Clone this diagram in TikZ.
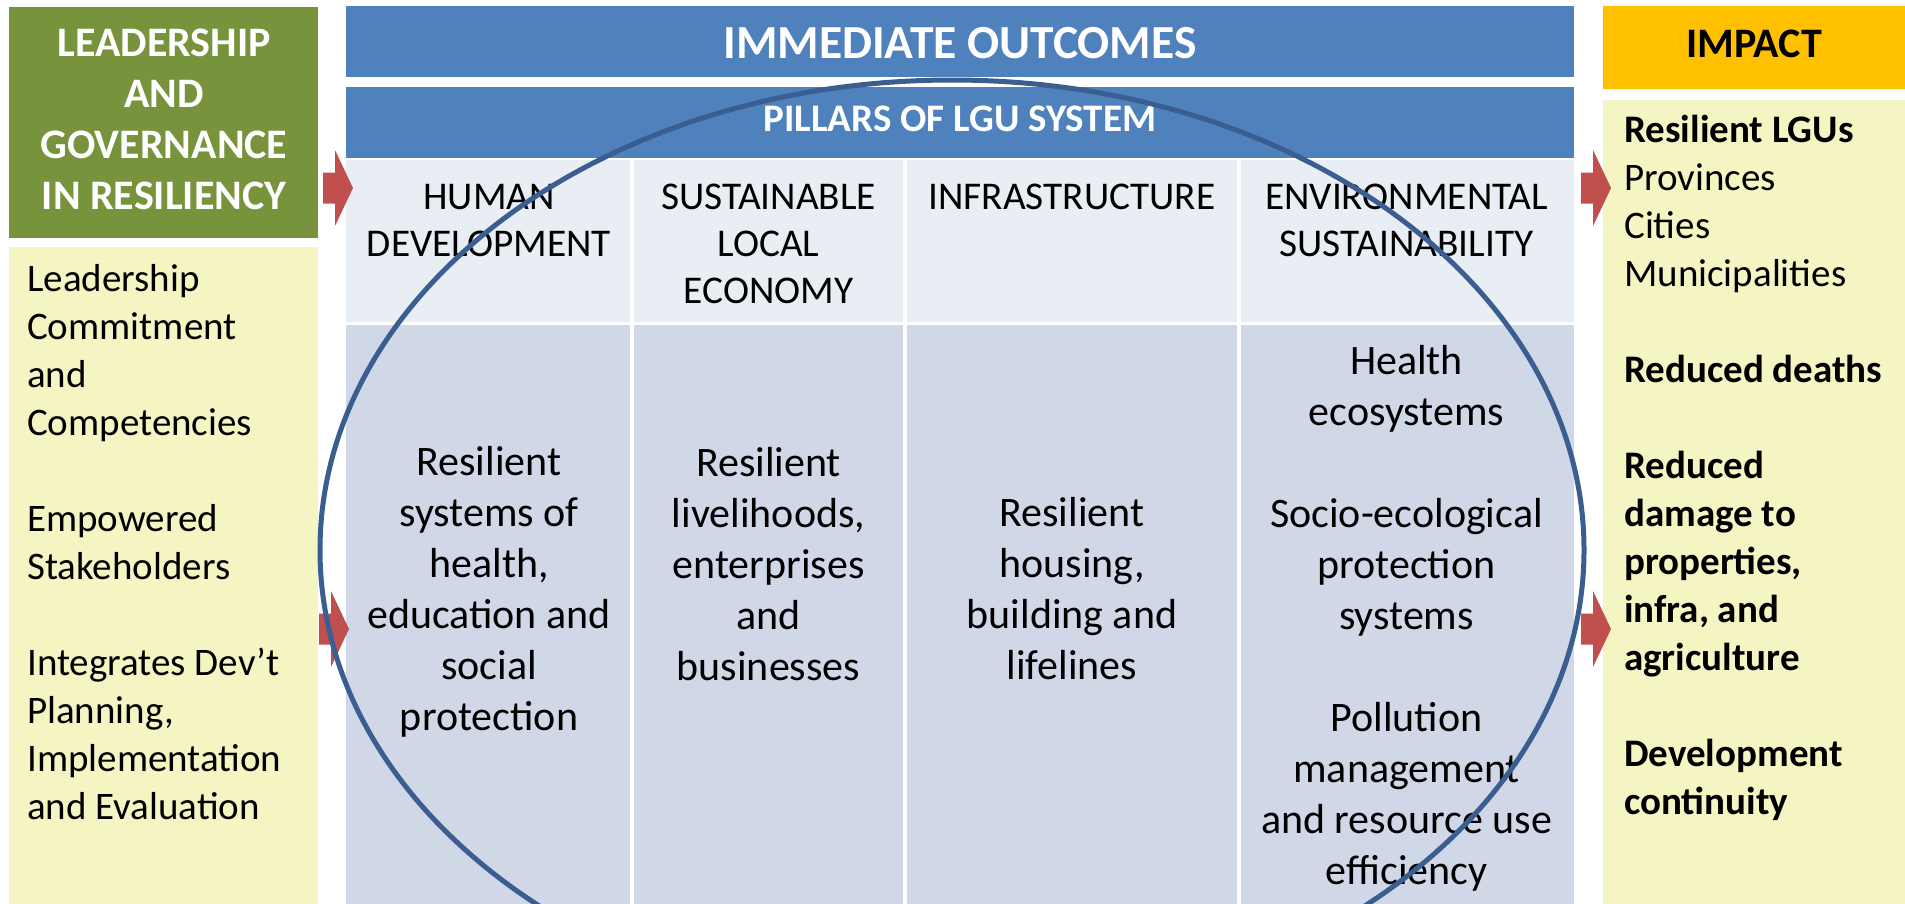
\documentclass[tikz,border=0pt]{standalone}
\usepackage{fontspec}
\setmainfont{Carlito}
\usetikzlibrary{shapes.geometric}
\definecolor{lgreen}{HTML}{77933C}
\definecolor{lyellow}{HTML}{F5F5C4}
\definecolor{hblue}{HTML}{4F81BD}
\definecolor{hlight}{HTML}{E9EDF4}
\definecolor{blight}{HTML}{D0D8E8}
\definecolor{impact}{HTML}{FFC000}
\definecolor{arrowred}{HTML}{C0504D}
\definecolor{ringblue}{HTML}{3A5E8F}
\begin{document}
\begin{tikzpicture}[x=1pt,y=-1pt,
  box/.style={draw=none,inner sep=0pt,outer sep=0pt,anchor=north west},
  bodytext/.style={font=\fontsize{42}{51}\selectfont,align=center,inner sep=0pt},
  headtext/.style={font=\fontsize{39.3}{47}\selectfont,align=center,inner sep=0pt,anchor=north},
  sidetext/.style={font=\fontsize{39}{48}\selectfont,align=left,inner sep=0pt,anchor=north west},
  blockarrow/.pic={\fill[arrowred] (-15,-15.5) -- (-3,-15.5) -- (-3,-38) -- (15,0) -- (-3,38) -- (-3,15.5) -- (-15,15.5) -- cycle;}
]
\useasboundingbox[fill=white] (0,0) rectangle (1905,903);

% left column
\node[box,fill=lgreen,minimum width=309pt,minimum height=231pt] (lg) at (9,7) {};
\node[box,fill=lyellow,minimum width=309pt,minimum height=660pt] (ly) at (9,247) {};

% centre headers
\node[box,fill=hblue,minimum width=1228pt,minimum height=71pt] (out) at (346,6) {};
\node[box,fill=hblue,minimum width=1228pt,minimum height=71pt] (pil) at (346,87) {};

\node[box,fill=hlight,minimum width=284pt,minimum height=162pt] (h1) at (346,160) {};
\node[box,fill=hlight,minimum width=269pt,minimum height=162pt] (h2) at (634,160) {};
\node[box,fill=hlight,minimum width=330pt,minimum height=162pt] (h3) at (907,160) {};
\node[box,fill=hlight,minimum width=333pt,minimum height=162pt] (h4) at (1241,160) {};

\node[box,fill=blight,minimum width=284pt,minimum height=580pt] (b1) at (346,325) {};
\node[box,fill=blight,minimum width=269pt,minimum height=580pt] (b2) at (634,325) {};
\node[box,fill=blight,minimum width=330pt,minimum height=580pt] (b3) at (907,325) {};
\node[box,fill=blight,minimum width=333pt,minimum height=580pt] (b4) at (1241,325) {};

% right column
\node[box,fill=impact,minimum width=302pt,minimum height=83pt] (imp) at (1603,6) {};
\node[box,fill=lyellow,minimum width=302pt,minimum height=805pt] (ry) at (1603,100) {};

% texts
\node[font=\fontsize{42}{51}\selectfont\bfseries,text=white,align=center,inner sep=0pt,anchor=north] (tlg) at (164,21)
  {\strut LEADERSHIP\\AND\\GOVERNANCE\\IN RESILIENCY\strut};
\node[sidetext] (tly) at (27,258)
  {\strut Leadership\\Commitment\\and\\Competencies\\[48pt]Empowered\\Stakeholders\\[48pt]Integrates Dev’t\\Planning,\\Implementation\\and Evaluation\strut};

\node[font=\fontsize{47.5}{56}\selectfont\bfseries,text=white,inner sep=0pt] (tout) at (960,43) {IMMEDIATE OUTCOMES};
\node[font=\fontsize{39}{46}\selectfont\bfseries,text=white,inner sep=0pt] (tpil) at (960,119) {PILLARS OF LGU SYSTEM};

\node[headtext] (th1) at (489,176) {\strut HUMAN\\DEVELOPMENT\strut};
\node[headtext] (th2) at (768.5,176) {\strut SUSTAINABLE\\LOCAL\\ECONOMY\strut};
\node[headtext] (th3) at (1072,176) {\strut INFRASTRUCTURE\strut};
\node[headtext] (th4) at (1406.5,176) {\strut ENVIRONMENTAL\\SUSTAINABILITY\strut};

\node[bodytext] (tb1) at (489,593) {\strut Resilient\\systems of\\health,\\education and\\social\\protection\strut};
\node[bodytext] (tb2) at (768.5,568) {\strut Resilient\\livelihoods,\\enterprises\\and\\businesses\strut};
\node[bodytext] (tb3) at (1072,593) {\strut Resilient\\housing,\\building and\\lifelines\strut};
\node[bodytext] (tb4) at (1406.5,619) {\strut Health\\ecosystems\\[51pt]Socio-ecological\\protection\\systems\\[51pt]Pollution\\management\\and resource use\\efficiency\strut};

\node[font=\fontsize{42}{50}\selectfont\bfseries,inner sep=0pt] (timp) at (1754,44) {IMPACT};
\node[sidetext] (trg) at (1624,109)
  {\strut\textbf{Resilient LGUs}\\Provinces\\Cities\\Municipalities\\[48pt]\textbf{Reduced deaths}\\[48pt]\textbf{Reduced}\\\textbf{damage to}\\\textbf{properties,}\\\textbf{infra, and}\\\textbf{agriculture}\\[48pt]\textbf{Development}\\\textbf{continuity}\strut};

% block arrows
\pic at (338,188) {blockarrow};
\pic at (334,629) {blockarrow};
\pic at (1596,188) {blockarrow};
\pic at (1596,629) {blockarrow};

% ring
\node[ellipse,draw=ringblue,line width=5pt,inner sep=0pt,minimum width=1264pt,minimum height=940pt] (ring) at (952,550) {};
\end{tikzpicture}
\end{document}
